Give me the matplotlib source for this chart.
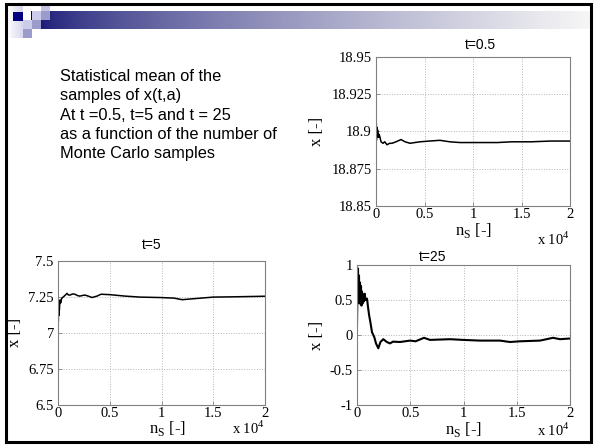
import numpy as np
import matplotlib
matplotlib.use('Agg')
import matplotlib.pyplot as plt
from matplotlib.patches import Rectangle

# Monte Carlo running means
ns_a = [0, 10, 20, 30, 45, 60, 80, 100, 130, 160, 200, 260, 320, 412, 520, 722, 900,
        1134, 1400, 1649, 2062, 2577, 3000, 3505, 4000, 4536, 5500, 6598, 7600, 8660,
        10722, 12500, 14000, 16000, 18000, 20000]
x_a = [18.883, 18.918, 18.889, 18.905, 18.894, 18.903, 18.896, 18.902, 18.897, 18.901,
       18.899, 18.896, 18.898, 18.896, 18.893, 18.892, 18.893, 18.891, 18.892, 18.892,
       18.893, 18.8945, 18.893, 18.892, 18.8925, 18.893, 18.8935, 18.894, 18.893,
       18.8925, 18.8925, 18.8925, 18.893, 18.893, 18.8935, 18.8935]

ns_b = [0, 15, 30, 50, 70, 100, 130, 193, 260, 350, 483, 650, 870, 1000, 1159, 1400,
        1643, 1900, 2126, 2400, 2609, 3000, 3285, 3768, 4155, 5024, 6473, 7923, 9855,
        11208, 12000, 13000, 15000, 17000, 20000]
x_b = [7.05, 7.15, 7.08, 7.17, 7.12, 7.2, 7.16, 7.23, 7.21, 7.24, 7.25, 7.26, 7.276,
       7.265, 7.264, 7.272, 7.27, 7.26, 7.257, 7.262, 7.264, 7.255, 7.247, 7.257, 7.27,
       7.267, 7.257, 7.25, 7.247, 7.243, 7.232, 7.238, 7.25, 7.252, 7.256]

ns_c = [0, 40, 94, 130, 188, 230, 282, 330, 376, 420, 469, 520, 563, 640, 723, 800,
        939, 1033, 1140, 1249, 1408, 1624, 1784, 2000, 2200, 2469, 2800, 3099, 3380,
        4038, 4977, 5500, 6291, 6854, 8732, 9953, 11549, 13427, 14366, 15305, 17183,
        18404, 19061, 20000]
x_c = [0.15, 0.6, 0.95, 0.55, 0.85, 0.45, 0.75, 0.5, 0.7, 0.42, 0.62, 0.45, 0.58, 0.48,
       0.59, 0.5, 0.52, 0.40, 0.28, 0.19, 0.04, -0.03, -0.12, -0.19, -0.1, -0.06, -0.1,
       -0.12, -0.095, -0.1, -0.08, -0.09, -0.04, -0.07, -0.06, -0.07, -0.08, -0.08,
       -0.1, -0.09, -0.08, -0.04, -0.06, -0.05]

x_ticks = [0, 5000, 10000, 15000, 20000]
x_ticklabels = ['0', '0.5', '1', '1.5', '2']

serif = 'Liberation Serif'
sans = 'Liberation Sans'

fig = plt.figure(figsize=(5.95, 4.45), dpi=100)

# slide background: frame, header bar, squares, text (pixel coordinates)
bg = fig.add_axes([0, 0, 1, 1], zorder=-10)
bg.set_xlim(0, 595)
bg.set_ylim(445, 0)
bg.axis('off')

t = np.linspace(0, 1, 256) ** 0.7
navy = np.array([28, 28, 120]) / 255
light = np.array([246, 246, 246]) / 255
grad = navy[None, :] * (1 - t[:, None]) + light[None, :] * t[:, None]
bg.imshow(grad[None, :, :], extent=[41, 590, 29, 11], aspect='auto', zorder=1)

lav = np.linspace(1, 0, 64)
c0 = np.array([1, 1, 1])
c1 = np.array([215, 215, 238]) / 255
g2 = c0[None, :] * lav[:, None] + c1[None, :] * (1 - lav[:, None])
bg.imshow(g2[None, :, :], extent=[7, 23, 38, 5], aspect='auto', zorder=1)

squares = [
    (13, 12, 10, 9, '#000080'),
    (31, 11, 1.5, 9, '#000080'),
    (32, 11, 9, 9, '#ccccea'),
    (41, 5, 9, 6, '#c4c4e2'),
    (41, 11, 9, 9, '#9c9ccc'),
    (23, 20, 9, 9, '#ccccea'),
    (32, 20, 9, 9, '#9c9ccc'),
    (23, 29, 9, 9, '#9c9ccc'),
]
for x0, y0, w, h, c in squares:
    bg.add_patch(Rectangle((x0, y0), w, h, facecolor=c, edgecolor='none', zorder=2))

bg.plot([6, 6, 591, 591, 6], [442, 4, 4, 442, 442], color='black', lw=2.2, zorder=3,
        solid_joinstyle='miter')

bg.text(60, 69, 'Statistical mean of the\nsamples of x(t,a)\nAt t =0.5, t=5 and t = 25\n'
        'as a function of the number of\nMonte Carlo samples',
        family=sans, fontsize=11.8, va='top', ha='left', linespacing=1.36)


def draw(ax, ns, vals, yticks, ylabels, title, title_xy, ylab_x, xlab_xy, off_xy, lw):
    ax.plot(ns, vals, color='black', lw=lw)
    ax.set_xlim(0, 20000)
    ax.set_ylim(yticks[0], yticks[-1])
    ax.set_xticks(x_ticks)
    ax.set_xticklabels(x_ticklabels, family=serif, fontsize=10.5)
    ax.set_yticks(yticks)
    ax.set_yticklabels(ylabels, family=serif, fontsize=10.5)
    ax.tick_params(direction='in', length=3, width=0.6, color='#808080')
    ax.tick_params(axis='x', pad=1.5)
    ax.tick_params(axis='y', pad=3)
    ax.grid(True, linestyle=':', color='#b4b4b4', lw=0.7)
    for s in ax.spines.values():
        s.set_color('#808080')
        s.set_linewidth(0.8)
    ax.set_ylabel('x [-]', family=serif, fontsize=12)
    ax.yaxis.set_label_coords(ylab_x, 0.5)
    ax.yaxis.label.set_va('center')
    ax.set_xlabel('n$_\\mathregular{S}$ [-]', family=serif, fontsize=12)
    ax.xaxis.set_label_coords(xlab_xy[0], xlab_xy[1])
    ax.xaxis.label.set_va('center')
    ax.text(off_xy[0], off_xy[1], 'x 10$^\\mathregular{4}$', family=serif, fontsize=10.5,
            transform=ax.transAxes, ha='center', va='center')
    ax.set_title(title, x=title_xy[0], y=title_xy[1], va='center', family=sans,
                 fontsize=10, pad=0)


ax_a = fig.add_axes([376 / 595, (445 - 206) / 445, 194 / 595, 149.3 / 445])
draw(ax_a, ns_a, x_a, [18.85, 18.875, 18.9, 18.925, 18.95],
     ['18.85', '18.875', '18.9', '18.925', '18.95'], 't=0.5', (0.536, 1.078),
     -0.304, (0.5, -0.165), (0.912, -0.221), 1.1)

ax_b = fig.add_axes([58 / 595, (445 - 404.5) / 445, 207 / 595, 143.2 / 445])
draw(ax_b, ns_b, x_b, [6.5, 6.75, 7, 7.25, 7.5],
     ['6.5', '6.75', '7', '7.25', '7.5'], 't=5', (0.454, 1.114),
     -0.208, (0.53, -0.165), (0.918, -0.164), 1.1)

ax_c = fig.add_axes([357 / 595, (445 - 405) / 445, 213 / 595, 140 / 445])
draw(ax_c, ns_c, x_c, [-1, -0.5, 0, 0.5, 1],
     ['-1', '-0.5', '0', '0.5', '1'], 't=25', (0.357, 1.057),
     -0.188, (0.5, -0.175), (0.92, -0.179), 1.5)

fig.savefig('out.png', dpi=100)
